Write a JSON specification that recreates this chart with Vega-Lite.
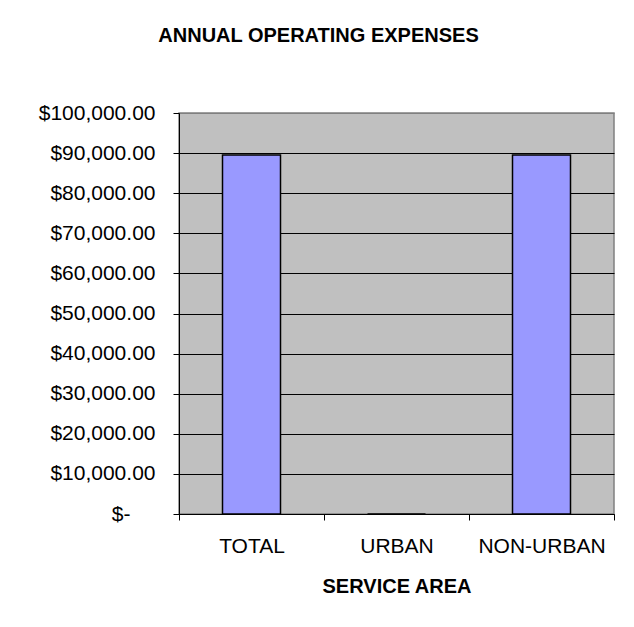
{
  "$schema": "https://vega.github.io/schema/vega-lite/v6.json",
  "width": 435,
  "height": 401,
  "autosize": "none",
  "padding": {"left": 179, "top": 113, "right": 20, "bottom": 113},
  "background": "white",
  "title": {
    "text": "ANNUAL OPERATING EXPENSES",
    "font": "Liberation Sans",
    "fontSize": 20,
    "fontWeight": "bold",
    "color": "black",
    "anchor": "middle",
    "dx": -78,
    "offset": 56
  },
  "data": {
    "values": [
      {"area": "TOTAL", "expenses": 89500},
      {"area": "URBAN", "expenses": 0},
      {"area": "NON-URBAN", "expenses": 89500}
    ]
  },
  "mark": {"type": "bar", "fill": "#9999FF", "stroke": "black", "strokeWidth": 1.5, "width": {"band": 0.4}},
  "encoding": {
    "x": {
      "field": "area",
      "type": "nominal",
      "sort": ["TOTAL", "URBAN", "NON-URBAN"],
      "scale": {"paddingInner": 0, "paddingOuter": 0},
      "axis": {
        "title": "SERVICE AREA",
        "labelAngle": 0,
        "tickBand": "extent",
        "tickSize": 6,
        "labelPadding": 15,
        "labelFontSize": 21,
        "titleFontSize": 20,
        "titleFontWeight": "bold",
        "titlePadding": 20,
        "grid": false
      }
    },
    "y": {
      "field": "expenses",
      "type": "quantitative",
      "scale": {"domain": [0, 100000], "nice": false},
      "axis": {
        "title": null,
        "values": [0, 10000, 20000, 30000, 40000, 50000, 60000, 70000, 80000, 90000, 100000],
        "labelExpr": "datum.value == 0 ? '$-' : '$' + format(datum.value, ',.2f')",
        "labelFontSize": 21,
        "labelPadding": {"condition": {"test": "datum.value === 0", "value": 43}, "value": 18},
        "tickSize": 6,
        "grid": true,
        "gridColor": {"condition": {"test": "datum.value === 100000", "value": "#808080"}, "value": "black"},
        "gridWidth": 1
      }
    }
  },
  "config": {
    "view": {"fill": "#C0C0C0", "stroke": "#808080", "strokeWidth": 1.5},
    "axis": {
      "domainColor": "black",
      "tickColor": "black",
      "labelColor": "black",
      "titleColor": "black",
      "labelFont": "Liberation Sans",
      "titleFont": "Liberation Sans",
      "domainWidth": 1,
      "tickWidth": 1
    }
  }
}
